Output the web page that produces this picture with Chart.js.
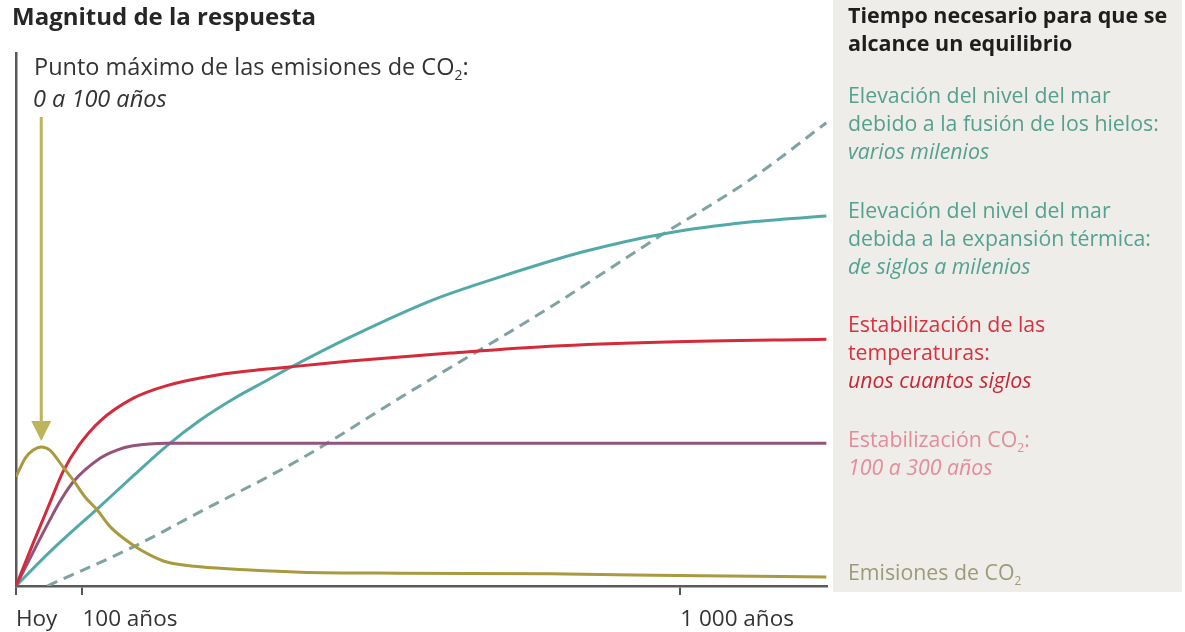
<!DOCTYPE html>
<html lang="es">
<head>
<meta charset="UTF-8">
<title>Magnitud de la respuesta</title>
<script src="https://cdn.jsdelivr.net/npm/chart.js@4.4.0/dist/chart.umd.min.js"></script>
<style>
    body { margin: 0; background: #fff; }
    #chart-container { width: 1185px; height: 632px; }
</style>
</head>
<body>
<div id="chart-container"><canvas id="chart" width="1185" height="632"></canvas></div>
<script>
// años desde hoy (escala esquemática) y magnitud relativa de la respuesta
const emisionesX = [0, 14, 26, 38, 51, 71, 86, 104, 122, 142, 176, 202, 227, 277, 352, 428, 578, 804, 1030, 1220];
const emisionesY = [20.5, 24.0, 25.5, 26.1, 25.5, 22.3, 19.9, 16.7, 14.3, 11.1, 7.7, 5.8, 4.5, 3.6, 3.0, 2.6, 2.4, 2.3, 1.9, 1.7];

const co2X = [0, 26, 51, 66, 86, 127, 152, 176, 227, 352, 1220];
const co2Y = [0, 6.4, 12.4, 15.8, 19.5, 24.0, 25.5, 26.3, 26.8, 26.8, 26.8];

const temperaturaX = [0, 26, 51, 71, 96, 127, 176, 227, 303, 378, 428, 503, 654, 804, 980, 1220];
const temperaturaY = [0, 8.1, 15.6, 21.5, 26.6, 31.0, 35.2, 37.6, 39.6, 40.7, 41.3, 42.2, 43.7, 45.0, 45.8, 46.3];

const dilatacionX = [0, 51, 127, 176, 227, 277, 327, 378, 413, 503, 628, 729, 854, 980, 1105, 1220];
const dilatacionY = [0, 6.4, 15.0, 20.6, 26.3, 31.1, 35.1, 38.6, 41.0, 46.7, 53.7, 58.0, 62.7, 66.2, 68.3, 69.4];

const hielosX = [47, 176, 277, 428, 578, 804, 970, 1105, 1220];
const hielosY = [0, 7.3, 13.9, 23.8, 35.3, 52.3, 65.7, 76.2, 86.9];

const tickValues = [0, 100, 1000];
const tickLabels = ['Hoy', '100 años', '1 000 años'];

// flecha del punto máximo de emisiones
const flechaX = 38;
const flechaDesde = 88;
const flechaHasta = 27.2;

const FONT = '"Open Sans"';

function pts(xs, ys) {
    return xs.map((x, i) => ({x: x, y: ys[i]}));
}

// texto con subíndices: "CO_2"
function drawRich(ctx, text, x, y, size, style) {
    const parts = text.split(/_(\d)/);
    let cx = x;
    parts.forEach((p, i) => {
        const sub = i % 2 === 1;
        ctx.font = style + ' ' + (sub ? Math.round(size * 0.58) : size) + 'px ' + FONT;
        ctx.fillText(p, cx, sub ? y + size * 0.34 : y);
        cx += ctx.measureText(p).width;
    });
}

const panel = [
    {text: 'Tiempo necesario para que se', y: 17, color: '#1e1e1e', style: 'bold'},
    {text: 'alcance un equilibrio', y: 45, color: '#1e1e1e', style: 'bold'},
    {text: 'Elevación del nivel del mar', y: 97, color: '#55a08f', style: 'normal'},
    {text: 'debido a la fusión de los hielos:', y: 125, color: '#55a08f', style: 'normal'},
    {text: 'varios milenios', y: 153, color: '#55a08f', style: 'italic'},
    {text: 'Elevación del nivel del mar', y: 212, color: '#52a292', style: 'normal'},
    {text: 'debida a la expansión térmica:', y: 240, color: '#52a292', style: 'normal'},
    {text: 'de siglos a milenios', y: 268, color: '#52a292', style: 'italic'},
    {text: 'Estabilización de las', y: 326, color: '#d8323f', style: 'normal'},
    {text: 'temperaturas:', y: 354, color: '#d8323f', style: 'normal'},
    {text: 'unos cuantos siglos', y: 382, color: '#c62838', style: 'italic'},
    {text: 'Estabilización CO_2:', y: 441, color: '#e48c99', style: 'normal'},
    {text: '100 a 300 años', y: 469, color: '#e48c99', style: 'italic'},
    {text: 'Emisiones de CO_2', y: 574, color: '#9c9a78', style: 'normal'}
];

const textPlugin = {
    id: 'textos',
    beforeDraw(chart) {
        const {ctx} = chart;
        ctx.save();
        ctx.fillStyle = '#ffffff';
        ctx.fillRect(0, 0, chart.width, chart.height);
        ctx.fillStyle = '#efede9';
        ctx.fillRect(833, 0, 349, 592);
        ctx.restore();
    },
    afterDatasetsDraw(chart) {
        const {ctx} = chart;
        const xs = chart.scales.x, ys = chart.scales.y;
        const ax = xs.getPixelForValue(flechaX);
        const y0 = ys.getPixelForValue(flechaDesde);
        const y1 = ys.getPixelForValue(flechaHasta);
        ctx.save();
        ctx.strokeStyle = '#bdb55b';
        ctx.fillStyle = '#bdb55b';
        ctx.lineWidth = 3;
        ctx.beginPath();
        ctx.moveTo(ax, y0);
        ctx.lineTo(ax, y1 - 16);
        ctx.stroke();
        ctx.beginPath();
        ctx.moveTo(ax - 10, y1 - 20);
        ctx.lineTo(ax + 10, y1 - 20);
        ctx.lineTo(ax, y1);
        ctx.closePath();
        ctx.fill();
        ctx.restore();
    },
    afterDraw(chart) {
        const {ctx} = chart;
        ctx.save();
        ctx.textBaseline = 'middle';
        ctx.textAlign = 'left';
        ctx.fillStyle = '#262626';
        drawRich(ctx, 'Magnitud de la respuesta', 12, 18, 24, 'bold');
        ctx.fillStyle = '#333333';
        drawRich(ctx, 'Punto máximo de las emisiones de CO_2:', 34, 68, 23.5, 'normal');
        drawRich(ctx, '0 a 100 años', 33, 100, 23.5, 'italic');
        panel.forEach(l => {
            ctx.fillStyle = l.color;
            drawRich(ctx, l.text, 848, l.y, l.style === 'bold' ? 21.5 : 21.3, l.style);
        });
        ctx.restore();
    }
};

const data = {
    datasets: [
        {label: 'Emisiones de CO2', data: pts(emisionesX, emisionesY), borderColor: '#a99a40', borderWidth: 3},
        {label: 'Estabilización de las temperaturas', data: pts(temperaturaX, temperaturaY), borderColor: '#d42a3a', borderWidth: 3},
        {label: 'Estabilización CO2', data: pts(co2X, co2Y), borderColor: '#94537a', borderWidth: 3},
        {label: 'Expansión térmica', data: pts(dilatacionX, dilatacionY), borderColor: '#52aaa8', borderWidth: 3},
        {label: 'Fusión de los hielos', data: pts(hielosX, hielosY), borderColor: '#7fa2a2', borderWidth: 3, borderDash: [11, 7]}
    ]
};

const config = {
    type: 'line',
    data: data,
    options: {
        responsive: false,
        animation: false,
        layout: {padding: {left: 16, right: 358, top: 53, bottom: -11.5}},
        elements: {
            point: {radius: 0},
            line: {cubicInterpolationMode: 'monotone', fill: false}
        },
        scales: {
            x: {
                type: 'linear',
                min: 0,
                max: 1221,
                afterBuildTicks: (scale) => { scale.ticks = tickValues.map(v => ({value: v})); },
                ticks: {
                    autoSkip: false,
                    maxRotation: 0,
                    align: 'start',
                    padding: 13,
                    color: '#333333',
                    font: {family: 'Open Sans', size: 22.5, lineHeight: 1.0},
                    callback: (v) => tickLabels[tickValues.indexOf(v)]
                },
                grid: {display: true, drawOnChartArea: false, drawTicks: true, tickLength: 9, color: '#555555', lineWidth: 2},
                border: {display: true, color: '#5a5a5a', width: 2.5}
            },
            y: {
                min: 0,
                max: 100,
                ticks: {display: false},
                grid: {display: false, drawTicks: false},
                border: {display: true, color: '#5a5a5a', width: 2.5}
            }
        },
        plugins: {
            legend: {display: false},
            tooltip: {enabled: false}
        }
    },
    plugins: [textPlugin]
};

const canvas = document.getElementById('chart');
let chart = new Chart(canvas, config);
</script>
</body>
</html>
